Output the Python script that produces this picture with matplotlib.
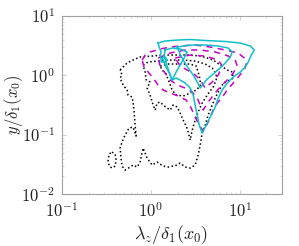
import numpy as np
import matplotlib
matplotlib.use("Agg")
import matplotlib.pyplot as plt
from matplotlib.ticker import FixedLocator, FixedFormatter, LogLocator, NullFormatter

plt.rcParams['mathtext.fontset'] = 'cm'
plt.rcParams['font.family'] = 'serif'

# ---- contour lines (log10 of lambda_z/delta_1, log10 of y/delta_1) ----
black_outer_loglam = [-0.346, -0.267, -0.200, -0.121, 0.026, 0.139, 0.274, 0.409, 0.556, 0.635, 0.702, 0.781,
                      0.860, 0.917, 0.928, 0.894, 0.838, 0.804, 0.759, 0.725, 0.691, 0.646, 0.612, 0.578,
                      0.556, 0.533, 0.499, 0.443, 0.387, 0.330, 0.297, 0.195, 0.139, 0.105, 0.071, 0.015,
                      -0.042, -0.087, -0.121, -0.154, -0.200, -0.233, -0.290, -0.324, -0.335, -0.346, -0.324,
                      -0.290, -0.245, -0.200, -0.166, -0.177, -0.188, -0.200, -0.211, -0.256, -0.267, -0.312,
                      -0.346, -0.324, -0.346]
black_outer_logy = [0.091, 0.209, 0.259, 0.310, 0.327, 0.343, 0.343, 0.343, 0.327, 0.293, 0.259, 0.175,
                    0.091, 0.057, -0.044, -0.077, -0.111, -0.162, -0.279, -0.380, -0.498, -0.667, -0.835, -0.970,
                    -1.172, -1.340, -1.508, -1.559, -1.542, -1.475, -1.508, -1.542, -1.525, -1.492, -1.458, -1.508,
                    -1.391, -1.222, -1.458, -1.542, -1.508, -1.542, -1.593, -1.525, -1.391, -1.222, -1.121,
                    -1.003, -0.886, -0.869, -1.020, -0.835, -0.616, -0.448, -0.364, -0.330, -0.246, -0.162,
                    -0.044, 0.007, 0.091]

black_middle_loglam = [-0.087, -0.030, 0.082, 0.218, 0.364, 0.499, 0.612, 0.691, 0.736, 0.736, 0.702, 0.635,
                       0.578, 0.533, 0.499, 0.466, 0.443, 0.421, 0.398, 0.364, 0.330, 0.297, 0.251, 0.218,
                       0.184, 0.139, 0.105, 0.071, 0.048, 0.015, -0.008, -0.042, -0.008, -0.053, -0.064, -0.087]
black_middle_logy = [0.175, 0.226, 0.242, 0.259, 0.259, 0.242, 0.192, 0.125, 0.024, -0.077, -0.195, -0.330,
                     -0.465, -0.616, -0.751, -0.919, -1.088, -0.953, -0.852, -0.751, -0.633, -0.532, -0.498, -0.582,
                     -0.549, -0.498, -0.448, -0.465, -0.582, -0.448, -0.330, -0.212, -0.111, -0.077, 0.057, 0.175]

black_inner_loglam = [0.105, 0.195, 0.308, 0.443, 0.511, 0.533, 0.556, 0.556, 0.511, 0.443, 0.364, 0.285,
                      0.240, 0.206, 0.172, 0.127, 0.105]
black_inner_logy = [0.158, 0.192, 0.192, 0.192, 0.158, 0.057, -0.077, -0.178, -0.246, -0.296, -0.347, -0.330,
                    -0.246, -0.111, 0.024, 0.091, 0.158]

black_loop_loglam = [-0.436, -0.402, -0.391, -0.402, -0.436, -0.470, -0.481, -0.470, -0.436]
black_loop_logy = [-1.290, -1.323, -1.424, -1.525, -1.559, -1.525, -1.424, -1.323, -1.290]

magenta_outer_loglam = [-0.098, -0.064, -0.008, 0.105, 0.218, 0.330, 0.499, 0.669, 0.838, 0.984, 1.052, 1.074,
                        1.052, 0.984, 0.928, 0.860, 0.804, 0.748, 0.702, 0.669, 0.635, 0.590, 0.545, 0.499,
                        0.454, 0.398, 0.308, 0.218, 0.139, 0.082, 0.026, -0.030, -0.076, -0.098]
magenta_outer_logy = [0.259, 0.343, 0.394, 0.444, 0.478, 0.495, 0.512, 0.478, 0.428, 0.377, 0.293, 0.192,
                      0.091, -0.027, -0.128, -0.246, -0.364, -0.465, -0.582, -0.700, -0.818, -0.936, -0.835, -0.700,
                      -0.549, -0.414, -0.347, -0.296, -0.246, -0.162, -0.044, 0.057, 0.141, 0.259]

magenta_middle_loglam = [0.082, 0.218, 0.387, 0.556, 0.725, 0.871, 0.950, 0.973, 0.928, 0.860, 0.781, 0.714,
                         0.646, 0.590, 0.556, 0.522, 0.466, 0.387, 0.297, 0.218, 0.161, 0.105, 0.082]
magenta_middle_logy = [0.293, 0.377, 0.428, 0.428, 0.394, 0.327, 0.259, 0.158, 0.040, -0.077, -0.195, -0.313,
                       -0.448, -0.582, -0.498, -0.380, -0.279, -0.212, -0.162, -0.077, 0.040, 0.158, 0.293]

magenta_inner_loglam = [0.274, 0.443, 0.612, 0.759, 0.804, 0.759, 0.691, 0.612, 0.556, 0.499, 0.409, 0.330, 0.274]
magenta_inner_logy = [0.293, 0.343, 0.327, 0.259, 0.158, 0.007, -0.111, -0.212, -0.077, 0.007, 0.091, 0.158, 0.293]

cyan_outer_loglam = [0.082, 0.161, 0.308, 0.443, 0.612, 0.838, 1.007, 1.120, 1.165, 1.131, 1.097, 1.063,
                     1.007, 0.928, 0.860, 0.804, 0.759, 0.725, 0.669, 0.623, 0.578, 0.545, 0.522, 0.499,
                     0.477, 0.443, 0.387, 0.330, 0.285, 0.240, 0.206, 0.172, 0.139, 0.105, 0.116, 0.094, 0.082]
cyan_outer_logy = [0.545, 0.579, 0.596, 0.604, 0.588, 0.571, 0.545, 0.495, 0.428, 0.343, 0.226, 0.141,
                   0.057, -0.027, -0.128, -0.246, -0.380, -0.532, -0.700, -0.835, -0.970, -0.835, -0.667, -0.498,
                   -0.330, -0.212, -0.128, -0.077, -0.044, -0.077, 0.040, 0.141, 0.259, 0.327, 0.394, 0.478, 0.545]

cyan_middle_loglam = [0.297, 0.443, 0.612, 0.759, 0.871, 0.917, 0.894, 0.849, 0.781, 0.702, 0.635, 0.590,
                      0.556, 0.522, 0.477, 0.421, 0.364, 0.330, 0.297]
cyan_middle_logy = [0.478, 0.512, 0.512, 0.495, 0.461, 0.394, 0.310, 0.226, 0.125, 0.024, -0.061, -0.145,
                    -0.212, -0.111, 0.007, 0.125, 0.259, 0.360, 0.478]

cyan_inner_loglam = [0.161, 0.240, 0.330, 0.409, 0.375, 0.330, 0.285, 0.240, 0.206, 0.172, 0.150, 0.161]
cyan_inner_logy = [0.428, 0.461, 0.444, 0.394, 0.293, 0.175, 0.057, -0.077, 0.057, 0.209, 0.327, 0.428]

cyan_loop_loglam = [0.116, 0.161, 0.184, 0.161, 0.116, 0.116]
cyan_loop_logy = [0.293, 0.310, 0.259, 0.226, 0.226, 0.293]

xtick_values = [0.1, 1, 10]
xtick_labels = [r'$10^{-1}$', r'$10^{0}$', r'$10^{1}$']
ytick_values = [0.01, 0.1, 1, 10]
ytick_labels = [r'$10^{-2}$', r'$10^{-1}$', r'$10^{0}$', r'$10^{1}$']

fig = plt.figure(figsize=(2.99, 2.46), dpi=100)
ax = fig.add_axes([0.2074, 0.2102, 0.7358, 0.7248])
ax.set_xscale('log')
ax.set_yscale('log')


def draw(lx, ly, **kw):
    ax.plot(10 ** np.asarray(lx), 10 ** np.asarray(ly), **kw)


kb = dict(color='black', ls=(0, (1, 1.6)), lw=1.1)
km = dict(color='#c800c8', ls=(0, (4, 3.5)), lw=1.1)
kc = dict(color='#10c0c8', ls='-', lw=1.1)

draw(black_outer_loglam, black_outer_logy, **kb)
draw(black_middle_loglam, black_middle_logy, **kb)
draw(black_inner_loglam, black_inner_logy, **kb)
draw(black_loop_loglam, black_loop_logy, **kb)
draw(magenta_outer_loglam, magenta_outer_logy, **km)
draw(magenta_middle_loglam, magenta_middle_logy, **km)
draw(magenta_inner_loglam, magenta_inner_logy, **km)
draw(cyan_outer_loglam, cyan_outer_logy, **kc)
draw(cyan_middle_loglam, cyan_middle_logy, **kc)
draw(cyan_inner_loglam, cyan_inner_logy, **kc)
draw(cyan_loop_loglam, cyan_loop_logy, **kc)

ax.set_xlim(0.1, 30)
ax.set_ylim(0.01, 10)
ax.xaxis.set_major_locator(FixedLocator(xtick_values))
ax.xaxis.set_major_formatter(FixedFormatter(xtick_labels))
ax.yaxis.set_major_locator(FixedLocator(ytick_values))
ax.yaxis.set_major_formatter(FixedFormatter(ytick_labels))
ax.xaxis.set_minor_locator(LogLocator(base=10, subs=np.arange(2, 10)))
ax.yaxis.set_minor_locator(LogLocator(base=10, subs=np.arange(2, 10)))
ax.xaxis.set_minor_formatter(NullFormatter())
ax.yaxis.set_minor_formatter(NullFormatter())

gray = '#a0a0a0'
for s in ax.spines.values():
    s.set_color(gray)
    s.set_linewidth(0.8)
ax.tick_params(which='both', direction='in', color='#c8c8c8', top=True, right=True,
               labelsize=12, labelcolor='#222222')
ax.tick_params(axis='x', which='major', pad=6)
ax.tick_params(axis='y', which='major', pad=5)
ax.tick_params(which='major', length=3, width=0.6)
ax.tick_params(which='minor', length=1.6, width=0.5)

ax.set_xlabel(r'$\lambda_z/\delta_1(x_0)$', fontsize=13, color='#222222')
ax.set_ylabel(r'$y/\delta_1(x_0)$', fontsize=12, color='#222222')
ax.xaxis.set_label_coords(0.495, -0.16)
ax.yaxis.set_label_coords(-0.168, 0.5)

fig.savefig('out.png', dpi=100)
